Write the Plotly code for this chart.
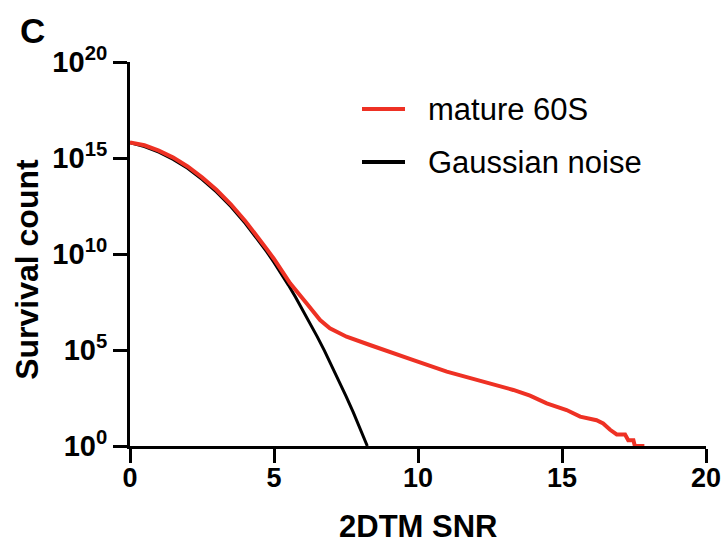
import plotly.graph_objects as go

# ---- data ----
gauss_snr = [0, 0.5, 1, 1.5, 2, 2.5, 3, 3.5, 4, 4.5, 4.75, 5, 5.25, 5.5, 5.75, 6, 6.25,
             6.5, 6.75, 7, 7.25, 7.5, 7.75, 8, 8.1, 8.24]
gauss_count = [6.3e15, 3.9e15, 2.0e15, 8.5e14, 2.9e14, 7.8e13, 1.7e13, 3.0e12, 4.0e11,
               4.3e10, 1.3e10, 3.6e9, 9.5e8, 2.4e8, 5.6e7, 1.2e7, 2.6e6, 5.0e5, 9.3e4,
               1.6e4, 2.6e3, 4.0e2, 58, 7.8, 3.5, 1]

mature_snr = [0, 0.5, 1, 1.5, 2, 2.5, 3, 3.5, 4, 4.5, 4.75, 5, 5.56, 6.13, 6.6, 6.94, 7.52,
              8.33, 8.68, 9.84, 11.0, 12.15, 13.31, 13.89, 14.47, 15.16, 15.63, 16.2,
              16.43, 16.67, 16.9, 17.19, 17.3, 17.48, 17.53, 17.86]
mature_count = [6.4e15, 4.6e15, 2.4e15, 1.05e15, 3.6e14, 9.8e13, 2.2e13, 3.9e12, 5.3e11,
                6.0e10, 1.8e10, 5.5e9, 2.95e8, 2.7e7, 3.6e6, 1.35e6, 4.9e5, 1.82e5, 1.23e5,
                3.0e4, 7.4e3, 2.5e3, 830, 420, 166, 75, 34, 22, 15, 7, 4, 4, 2, 2, 1, 1]

x_ticks = [0, 5, 10, 15, 20]
y_tick_exp = [0, 5, 10, 15, 20]
series_names = ["mature 60S", "Gaussian noise"]
series_colors = ["#EE3124", "#000000"]

FONT = "Arial, Liberation Sans, sans-serif"

fig = go.Figure()
fig.add_trace(go.Scatter(x=gauss_snr, y=gauss_count, mode="lines",
                         line=dict(color=series_colors[1], width=3),
                         name=series_names[1], showlegend=False))
fig.add_trace(go.Scatter(x=mature_snr, y=mature_count, mode="lines",
                         line=dict(color=series_colors[0], width=4),
                         name=series_names[0], showlegend=False))

fig.update_layout(
    width=726, height=546,
    margin=dict(l=130, r=20, t=62, b=100, autoexpand=False),
    paper_bgcolor="white", plot_bgcolor="white",
    font=dict(family=FONT, color="black"),
)
fig.update_xaxes(range=[0, 20], tickvals=x_ticks, ticktext=[str(t) for t in x_ticks],
                 automargin=False,
                 showgrid=False, zeroline=False, showline=True, linecolor="black",
                 linewidth=3, ticks="outside", ticklen=14, tickwidth=3, tickcolor="black",
                 ticklabelstandoff=-8,
                 tickfont=dict(size=27, family=FONT, weight="bold"))
fig.update_yaxes(type="log", range=[0, 20], tickvals=[10.0 ** e for e in y_tick_exp],
                 ticktext=["10<sup>%d</sup>" % e for e in y_tick_exp],
                 automargin=False,
                 showgrid=False, zeroline=False, showline=True, linecolor="black",
                 linewidth=3, ticks="outside", ticklen=14, tickwidth=3, tickcolor="black",
                 tickfont=dict(size=29, family=FONT, weight="bold"))

# axis titles and panel letter
fig.add_annotation(text="2DTM SNR", xref="paper", yref="paper", x=0.5, y=-0.21,
                   xanchor="center", yanchor="middle", showarrow=False,
                   font=dict(size=31, family=FONT, weight="bold"))
fig.add_annotation(text="Survival count", xref="paper", yref="paper", x=-0.178, y=0.46,
                   xanchor="center", yanchor="middle", textangle=-90, showarrow=False,
                   font=dict(size=32, family=FONT, weight="bold"))
fig.add_annotation(text="C", xref="paper", yref="paper", x=-0.195, y=1.083,
                   xanchor="left", yanchor="middle", showarrow=False,
                   font=dict(size=35, family=FONT, weight="bold"))

# manual legend
leg_y = [109, 162]
for name, color, py in zip(series_names, series_colors, leg_y):
    yp = 1 - (py - 62) / 384
    fig.add_shape(type="line", xref="paper", yref="paper",
                  x0=(362 - 130) / 576, x1=(405 - 130) / 576, y0=yp, y1=yp,
                  line=dict(color=color, width=4))
    fig.add_annotation(text=name, xref="paper", yref="paper", x=(426 - 130) / 576, y=yp,
                       xanchor="left", yanchor="middle", showarrow=False,
                       font=dict(size=31, family=FONT, color="black"))

fig.write_html("out.html")
